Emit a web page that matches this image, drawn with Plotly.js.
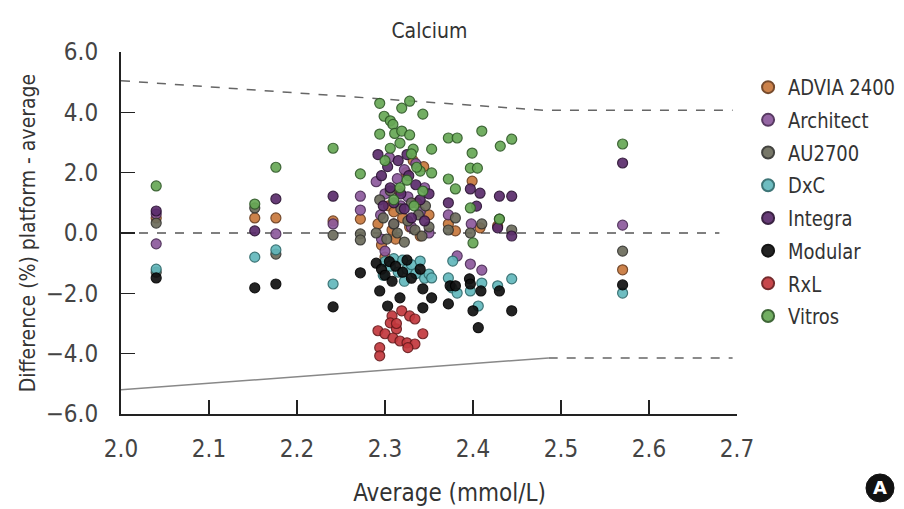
<!DOCTYPE html>
<html>
<head>
<meta charset="utf-8">
<script src="https://cdn.plot.ly/plotly-3.0.1.min.js"></script>
<style>html,body{margin:0;padding:0;background:#fff;}#chart{width:904px;height:509px;}</style>
</head>
<body>
<div id="chart"></div>
<script>
// ---- Data ----
const platforms = ["ADVIA 2400", "Architect", "AU2700", "DxC", "Integra", "Modular", "RxL", "Vitros"];

const advia_x = [2.04, 2.152, 2.176, 2.241, 2.272, 2.292, 2.296, 2.300, 2.304, 2.308, 2.312, 2.316, 2.320, 2.324, 2.328, 2.332, 2.336, 2.340, 2.344, 2.350, 2.310, 2.380, 2.399, 2.408, 2.428, 2.372, 2.570];
const advia_y = [0.50, 0.50, 0.50, 0.40, 0.46, 0.30, -0.40, -0.80, 0.90, 0.10, -0.20, 1.40, 0.50, 2.00, 0.20, 2.40, 1.00, -0.10, 2.20, 0.60, 0.70, 0.07, 1.72, 0.17, 0.23, 0.30, -1.22];

const architect_x = [2.04, 2.04, 2.176, 2.241, 2.272, 2.272, 2.290, 2.295, 2.300, 2.305, 2.310, 2.314, 2.318, 2.322, 2.326, 2.330, 2.335, 2.340, 2.345, 2.350, 2.296, 2.300, 2.372, 2.382, 2.397, 2.410, 2.398, 2.570];
const architect_y = [0.63, -0.36, -0.03, 0.30, 1.22, 0.76, 1.70, 0.60, 1.30, 2.50, 0.30, 1.80, 0.90, 2.10, 1.20, 0.20, 2.30, 0.70, 1.50, 0.00, -0.20, -0.60, 0.60, -0.76, -1.03, -1.23, 0.30, 0.26];

const au2700_x = [2.04, 2.04, 2.152, 2.176, 2.241, 2.272, 2.272, 2.290, 2.294, 2.298, 2.302, 2.306, 2.310, 2.314, 2.318, 2.322, 2.326, 2.330, 2.334, 2.338, 2.342, 2.346, 2.350, 2.372, 2.380, 2.397, 2.410, 2.430, 2.444, 2.570];
const au2700_y = [0.33, -1.30, 0.83, -0.70, -0.07, -0.03, -0.23, 0.00, 1.10, 0.50, -0.20, 1.40, 0.30, 0.00, 0.80, -0.30, 0.40, 1.00, 0.10, 0.60, -0.10, 0.90, 0.20, 0.10, 0.50, 0.00, 0.30, 0.46, 0.10, -0.60];

const dxc_x = [2.04, 2.152, 2.176, 2.241, 2.300, 2.306, 2.310, 2.315, 2.320, 2.325, 2.330, 2.335, 2.340, 2.345, 2.350, 2.353, 2.298, 2.322, 2.372, 2.377, 2.376, 2.382, 2.397, 2.410, 2.406, 2.428, 2.444, 2.570];
const dxc_y = [-1.20, -0.80, -0.56, -1.69, -0.95, -1.10, -0.85, -1.30, -0.90, -1.20, -1.05, -1.35, -0.93, -1.50, -1.36, -1.49, -1.40, -1.60, -1.49, -0.93, -1.82, -1.99, -1.92, -1.66, -2.42, -1.75, -1.52, -1.99];

const integra_x = [2.04, 2.152, 2.176, 2.241, 2.292, 2.296, 2.303, 2.306, 2.310, 2.315, 2.318, 2.322, 2.327, 2.330, 2.335, 2.340, 2.345, 2.350, 2.298, 2.325, 2.372, 2.397, 2.408, 2.430, 2.444, 2.404, 2.428, 2.444, 2.570];
const integra_y = [0.73, 0.07, 1.13, 1.22, 2.60, 1.90, 2.20, 1.50, 1.00, 2.40, 1.30, 0.80, 1.90, 0.50, 1.60, 1.10, 0.40, 1.30, 0.90, 2.60, 1.00, 1.46, 1.32, 1.22, 1.22, 0.89, 0.17, -0.10, 2.32];

const modular_x = [2.04, 2.152, 2.176, 2.241, 2.272, 2.290, 2.294, 2.296, 2.300, 2.303, 2.305, 2.308, 2.312, 2.317, 2.320, 2.325, 2.330, 2.343, 2.343, 2.353, 2.340, 2.372, 2.374, 2.380, 2.396, 2.397, 2.409, 2.400, 2.406, 2.430, 2.444, 2.570];
const modular_y = [-1.49, -1.82, -1.69, -2.45, -1.32, -1.00, -1.92, -1.20, -1.40, -2.42, -0.95, -1.60, -1.10, -2.15, -1.30, -0.90, -1.50, -1.85, -2.48, -2.15, -1.20, -2.35, -1.75, -1.75, -1.52, -1.69, -1.92, -2.58, -3.14, -1.92, -2.58, -1.72];

const rxl_x = [2.319, 2.308, 2.328, 2.334, 2.306, 2.313, 2.292, 2.300, 2.309, 2.317, 2.325, 2.334, 2.343, 2.294, 2.294, 2.326, 2.313];
const rxl_y = [-2.58, -2.75, -2.75, -2.85, -2.98, -3.18, -3.24, -3.34, -3.48, -3.58, -3.64, -3.68, -3.34, -3.80, -4.07, -3.80, -3.00];

const vitros_x = [2.04, 2.152, 2.176, 2.241, 2.272, 2.294, 2.328, 2.319, 2.343, 2.299, 2.306, 2.309, 2.294, 2.311, 2.319, 2.328, 2.317, 2.332, 2.353, 2.306, 2.330, 2.340, 2.353, 2.336, 2.317, 2.343, 2.325, 2.300, 2.310, 2.333, 2.372, 2.382, 2.410, 2.399, 2.431, 2.444, 2.372, 2.380, 2.397, 2.405, 2.397, 2.400, 2.430, 2.570];
const vitros_y = [1.56, 0.96, 2.18, 2.81, 1.96, 4.30, 4.37, 4.14, 3.94, 3.87, 3.72, 3.60, 3.28, 3.30, 3.38, 3.25, 2.98, 2.78, 2.78, 2.81, 2.62, 2.05, 1.99, 2.18, 1.50, 1.39, 1.75, 2.40, 1.10, 0.90, 3.15, 3.15, 3.38, 2.65, 2.88, 3.11, 1.79, 1.46, 2.15, 2.15, 0.83, -0.33, 0.46, 2.95];

// limits of agreement
const upper_x = [2.0, 2.48, 2.695];
const upper_y = [5.05, 4.07, 4.07];
const lower_slope_x = [2.0, 2.486];
const lower_slope_y = [-5.2, -4.14];
const lower_flat_x = [2.486, 2.695];
const lower_flat_y = [-4.14, -4.14];
const zero_x = [2.0, 2.68];
const zero_y = [0, 0];

const xTicks = [2.0, 2.1, 2.2, 2.3, 2.4, 2.5, 2.6, 2.7];
const yTicks = [-6, -4, -2, 0, 2, 4, 6];

// ---- Styles ----
const fills = ["#c8783c", "#8d5a9d", "#6c6c5c", "#62b8bc", "#5b2c6c", "#111111", "#c3383d", "#67a855"];
const edges = ["#6b3c1c", "#4a2a55", "#343430", "#2e6a6c", "#2a1033", "#000000", "#6a1a1c", "#2f5a27"];
const seriesX = [advia_x, architect_x, au2700_x, dxc_x, integra_x, modular_x, rxl_x, vitros_x];
const seriesY = [advia_y, architect_y, au2700_y, dxc_y, integra_y, modular_y, rxl_y, vitros_y];

const FONT = "'DejaVu Sans Condensed', 'Liberation Sans Narrow', sans-serif";
const LEGEND_LAYOUT_SIZE = 19;   // size used by Plotly to lay the legend out
const LEGEND_DRAW_SIZE = 21;     // slightly taller glyphs, as in the reference
const LEGEND_SQUEEZE = 0.95;     // final width relative to natural width at draw size

const traces = [
  {x: upper_x, y: upper_y, mode: "lines", line: {color: "#666", width: 1.5, dash: "dash"}, showlegend: false, hoverinfo: "skip"},
  {x: lower_slope_x, y: lower_slope_y, mode: "lines", line: {color: "#888", width: 1.5}, showlegend: false, hoverinfo: "skip"},
  {x: lower_flat_x, y: lower_flat_y, mode: "lines", line: {color: "#666", width: 1.5, dash: "dash"}, showlegend: false, hoverinfo: "skip"},
  {x: zero_x, y: zero_y, mode: "lines", line: {color: "#555", width: 1.5, dash: "dash"}, showlegend: false, hoverinfo: "skip"}
];
platforms.forEach((name, i) => {
  traces.push({
    x: seriesX[i], y: seriesY[i], name: name, legendgroup: name, type: "scatter", mode: "markers",
    marker: {size: 10, color: fills[i], opacity: 0.92, line: {color: edges[i], width: 1.2}}
  });
});

const layout = {
  width: 904, height: 509,
  margin: {l: 121, r: 167, t: 52, b: 95, autoexpand: false},
  paper_bgcolor: "#fff", plot_bgcolor: "#fff",
  font: {family: FONT, color: "#444", size: 22},
  title: {text: "Calcium", font: {family: FONT, size: 21, color: "#333"}, x: 0.475, xanchor: "center", y: 0.94, yanchor: "middle"},
  xaxis: {
    range: [2.0, 2.7], tickvals: xTicks, tickformat: ".1f",
    ticks: "inside", ticklen: 14, tickwidth: 1.5, tickcolor: "#222",
    showline: true, linecolor: "#222", linewidth: 2, showgrid: false, zeroline: false,
    tickfont: {family: FONT, size: 24, color: "#444"}, ticklabelstandoff: 12,
    title: {text: "&nbsp;&nbsp;&nbsp;&nbsp;&nbsp;&nbsp;Average (mmol/L)", font: {family: FONT, size: 24, color: "#333"}, standoff: 22}
  },
  yaxis: {
    range: [-6, 6], tickvals: yTicks, tickformat: ".1f",
    ticks: "inside", ticklen: 14, tickwidth: 1.5, tickcolor: "#222",
    showline: true, linecolor: "#222", linewidth: 2, showgrid: false, zeroline: false,
    tickfont: {family: FONT, size: 24, color: "#444"}, ticklabelstandoff: 16,
    title: {text: "Difference (%) platform - average", font: {family: FONT, size: 21, color: "#333"}, standoff: 4}
  },
  legend: {
    x: 1.018, xanchor: "left", y: 0.955, yanchor: "top",
    font: {family: FONT, size: LEGEND_LAYOUT_SIZE, color: "#333"}, itemsizing: "constant",
    tracegroupgap: 5,
    bgcolor: "rgba(0,0,0,0)", borderwidth: 0
  },
  shapes: [
    {type: "circle", xref: "paper", yref: "paper", x0: 1.2094, x1: 1.2549, y0: -0.243, y1: -0.1657, fillcolor: "#111", line: {color: "#111", width: 1}}
  ],
  annotations: [
    {text: "<b>A</b>", xref: "paper", yref: "paper", x: 1.232, y: -0.204, showarrow: false, font: {family: "DejaVu Sans, sans-serif", size: 18, color: "#fff"}, xanchor: "center", yanchor: "middle"}
  ]
};

Plotly.newPlot("chart", traces, layout, {displayModeBar: false, staticPlot: true}).then(() => {
  // slightly taller, condensed legend labels as in the reference
  document.querySelectorAll("#chart .legend text.legendtext").forEach(t => {
    const y = parseFloat(t.getAttribute("y") || "0");
    t.style.fontSize = LEGEND_DRAW_SIZE + "px";
    t.setAttribute("y", (y * LEGEND_DRAW_SIZE / LEGEND_LAYOUT_SIZE).toFixed(2));
    const len = t.getComputedTextLength();
    t.setAttribute("textLength", (len * LEGEND_SQUEEZE).toFixed(1));
    t.setAttribute("lengthAdjust", "spacingAndGlyphs");
  });
});
</script>
</body>
</html>
